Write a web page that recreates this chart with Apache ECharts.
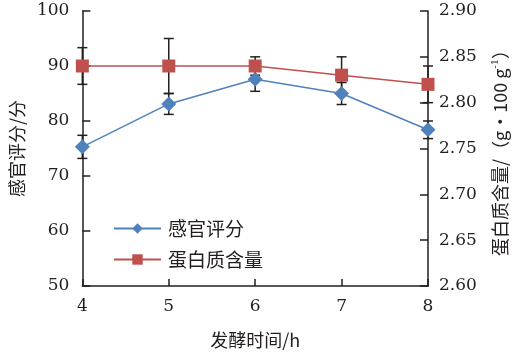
<!DOCTYPE html>
<html><head><meta charset="utf-8">
<script src="https://cdn.jsdelivr.net/npm/echarts@6/dist/echarts.min.js"></script>
<style>html,body{margin:0;padding:0;background:#fff}#c{width:517px;height:357px}</style>
</head><body><div id="c"></div>
<script>
const hours = [4, 5, 6, 7, 8];
const sensory = [75.3, 83.1, 87.6, 85.0, 78.4];
const sensoryErr = [2.1, 1.9, 2.2, 2.0, 1.6];
const protein = [2.84, 2.84, 2.84, 2.83, 2.82];
const proteinErr = [0.02, 0.03, 0.01, 0.02, 0.02];
const leftTicks = [50, 60, 70, 80, 90, 100];
const rightTicks = [2.60, 2.65, 2.70, 2.75, 2.80, 2.85, 2.90];

const cjk = 'Noto Sans CJK SC';
const num = 'DejaVu Serif';
const axisColor = '#231f20';

function errSeries(vals, errs, yIdx) {
  return {
    type: 'custom', yAxisIndex: yIdx, z: 1, silent: true,
    data: hours.map((h, i) => [h, vals[i], errs[i]]),
    renderItem: function (params, api) {
      const x = api.value(0), y = api.value(1), e = api.value(2);
      const top = api.coord([x, y + e]);
      const bot = api.coord([x, y - e]);
      const w = 5;
      const st = { stroke: '#231f20', lineWidth: 1.5 };
      return { type: 'group', children: [
        { type: 'line', shape: { x1: top[0], y1: top[1], x2: bot[0], y2: bot[1] }, style: st },
        { type: 'line', shape: { x1: top[0] - w, y1: top[1], x2: top[0] + w, y2: top[1] }, style: st },
        { type: 'line', shape: { x1: bot[0] - w, y1: bot[1], x2: bot[0] + w, y2: bot[1] }, style: st }
      ]};
    }
  };
}

const chart = echarts.init(document.getElementById('c'));
chart.setOption({
  animation: false,
  backgroundColor: '#fff',
  grid: { left: 74, right: 88, top: 11, bottom: 71 },
  legend: {
    orient: 'vertical', left: 108, top: 214, itemGap: 12,
    itemWidth: 47, itemHeight: 13,
    data: ['感官评分', '蛋白质含量'],
    textStyle: { fontFamily: cjk, fontSize: 19, color: '#231f20', padding: [0, 0, 0, 2] }
  },
  xAxis: {
    type: 'value', min: 4, max: 8, interval: 1,
    name: '发酵时间/h', nameLocation: 'middle', nameGap: 45,
    nameTextStyle: { fontFamily: cjk, fontSize: 18, color: '#231f20' },
    axisLine: { lineStyle: { color: axisColor, width: 1.5 } },
    axisTick: { inside: true, length: 7, lineStyle: { color: axisColor, width: 1.5 } },
    axisLabel: { fontFamily: num, fontSize: 17, color: '#231f20', margin: 12 },
    splitLine: { show: false }
  },
  yAxis: [{
    type: 'value', min: leftTicks[0], max: leftTicks[leftTicks.length - 1], interval: 10,
    name: '感官评分/分', nameLocation: 'middle', nameGap: 55, nameRotate: 90,
    nameTextStyle: { fontFamily: cjk, fontSize: 18, color: '#231f20' },
    axisLine: { show: true, lineStyle: { color: axisColor, width: 1.5 } },
    axisTick: { show: true, inside: true, length: 8, lineStyle: { color: axisColor, width: 1.5 } },
    axisLabel: { fontFamily: num, fontSize: 17, color: '#231f20', margin: 13 },
    splitLine: { show: false }
  }, {
    type: 'value', position: 'right', min: rightTicks[0], max: rightTicks[rightTicks.length - 1], interval: 0.05,
    name: '{a|蛋白质含量/（g•100 g}{s|-1}{a|）}', nameLocation: 'middle', nameGap: 62, nameRotate: 90,
    nameTextStyle: { rich: {
      a: { fontFamily: cjk, fontSize: 18, color: '#231f20' },
      s: { fontFamily: num, fontSize: 10, color: '#231f20', verticalAlign: 'top', padding: [0, 0, 10, 0] }
    } },
    axisLine: { show: true, lineStyle: { color: axisColor, width: 1.5 } },
    axisTick: { show: true, inside: true, length: 8, lineStyle: { color: axisColor, width: 1.5 } },
    axisLabel: { fontFamily: num, fontSize: 17, color: '#231f20', margin: 11,
      formatter: v => v.toFixed(2) },
    splitLine: { show: false }
  }],
  series: [
    errSeries(sensory, sensoryErr, 0),
    errSeries(protein, proteinErr, 1),
    {
      name: '感官评分', type: 'line', yAxisIndex: 0, z: 3,
      data: hours.map((h, i) => [h, sensory[i]]),
      symbol: 'diamond', symbolSize: 15,
      lineStyle: { color: '#4F81BD', width: 1.5 },
      itemStyle: { color: '#4F81BD' }
    },
    {
      name: '蛋白质含量', type: 'line', yAxisIndex: 1, z: 3,
      data: hours.map((h, i) => [h, protein[i]]),
      symbol: 'rect', symbolSize: 13,
      lineStyle: { color: '#C0504D', width: 1.5 },
      itemStyle: { color: '#C0504D' }
    }
  ]
});
</script></body></html>
